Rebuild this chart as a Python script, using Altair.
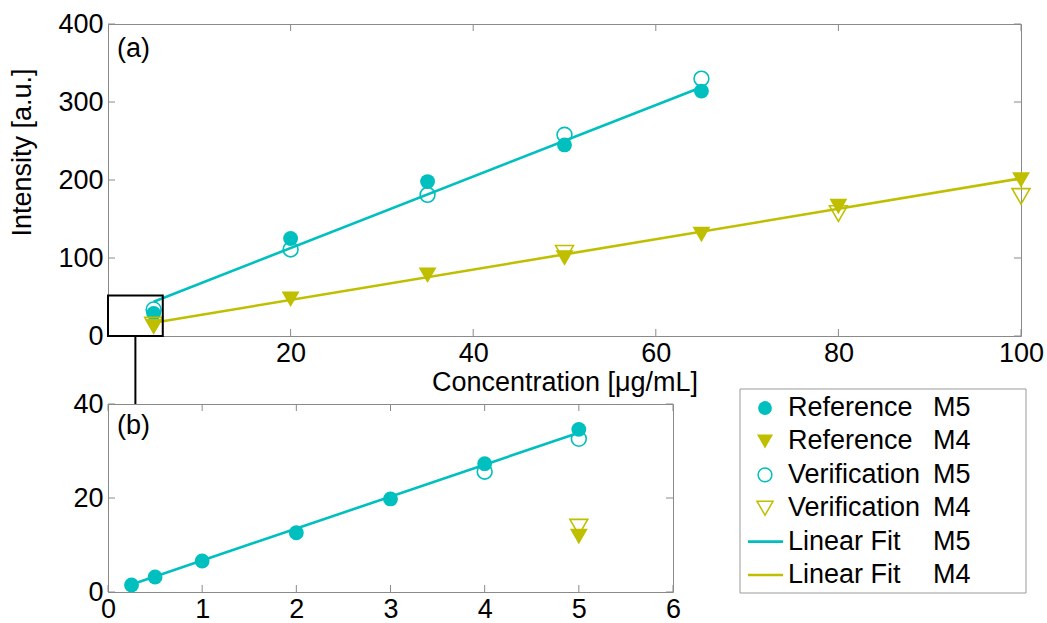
import altair as alt
import pandas as pd

FONT = "Liberation Sans"
FS = 27
CYAN = "#00BFBF"
OLIVE = "#BFBF00"
FRAME = "#8a8a8a"

# ---------------- data: panel (a) ----------------
a_m5_ref_x = [5, 20, 35, 50, 65]
a_m5_ref_y = [29, 125, 198, 245, 314]
a_m5_ver_x = [5, 20, 35, 50, 65]
a_m5_ver_y = [34, 111, 181, 258, 330]
a_m4_ref_x = [5, 20, 35, 50, 65, 80, 100]
a_m4_ref_y = [12, 47, 78, 100, 130, 166, 200]
a_m4_ver_x = [5, 50, 80, 100]
a_m4_ver_y = [14, 106, 157, 179]
a_fit_m5_x = [5, 65]
a_fit_m5_y = [44, 319]
a_fit_m4_x = [5, 100]
a_fit_m4_y = [17, 202]
a_zoom_box_x = [0, 6]
a_zoom_box_y = [0, 52]
a_xticks = [20, 40, 60, 80, 100]
a_yticks = [0, 100, 200, 300, 400]

# ---------------- data: panel (b) ----------------
b_m5_ref_x = [0.25, 0.5, 1, 2, 3, 4, 5]
b_m5_ref_y = [1.5, 3.2, 6.6, 12.6, 19.8, 27.3, 34.6]
b_m5_ver_x = [4, 5]
b_m5_ver_y = [25.6, 32.6]
b_m4_ref_x = [5]
b_m4_ref_y = [11.8]
b_m4_ver_x = [5]
b_m4_ver_y = [13.8]
b_fit_m5_x = [0.25, 5]
b_fit_m5_y = [1.6, 33.9]
b_xticks = [0, 1, 2, 3, 4, 5, 6]
b_yticks = [0, 20, 40]

# ---------------- legend ----------------
leg_names = ["Reference", "Reference", "Verification", "Verification", "Linear Fit", "Linear Fit"]
leg_models = ["M5", "M4", "M5", "M4", "M5", "M4"]
leg_kinds = ["filled-circle", "filled-tri", "open-circle", "open-tri", "line", "line"]
leg_colors = [CYAN, OLIVE, CYAN, OLIVE, CYAN, OLIVE]

W_A, H_A = 913, 312
W_B, H_B = 565, 188
W_L, H_L = 286, 188
TICK = 7


def df(xs, ys):
    return pd.DataFrame({"x": xs, "y": ys})


def panel(x_dom, y_dom, xticks, yticks, W, H, series, fits, x_title=None, y_title=None,
          extras=None, label="", xpad=4):
    xs = alt.Scale(domain=x_dom, nice=False, zero=False)
    ys = alt.Scale(domain=y_dom, nice=False, zero=False)
    ax_x = alt.Axis(values=xticks, ticks=False, domain=False, grid=False, labelFontSize=FS,
                    labelFont=FONT, labelColor="black", labelPadding=xpad, labelFlush=False,
                    title=x_title, titleFont=FONT, titleFontSize=FS, titleFontWeight="normal",
                    titleColor="black", titlePadding=3)
    ykw = dict(values=yticks, ticks=False, domain=False, grid=False, labelFontSize=FS,
               labelFont=FONT, labelColor="black", labelPadding=5, labelFlush=False,
               title=y_title, titleFont=FONT, titleFontSize=FS, titleFontWeight="normal",
               titleColor="black")
    if y_title:
        ykw.update(titleX=-86, titleY=128, titleBaseline="middle", titleAlign="center", titleAngle=-90)
    ax_y = alt.Axis(**ykw)
    X = lambda: alt.X("x:Q", scale=xs, axis=ax_x)
    Y = lambda: alt.Y("y:Q", scale=ys, axis=ax_y)

    layers = []
    # inward ticks on all four sides
    tx = pd.DataFrame({"x": xticks})
    ty = pd.DataFrame({"y": yticks})
    layers.append(alt.Chart(tx).mark_rule(color=FRAME, strokeWidth=1).encode(
        x=X(), y=alt.value(H), y2=alt.value(H - TICK)))
    layers.append(alt.Chart(tx).mark_rule(color=FRAME, strokeWidth=1).encode(
        x=X(), y=alt.value(0), y2=alt.value(TICK)))
    layers.append(alt.Chart(ty).mark_rule(color=FRAME, strokeWidth=1).encode(
        y=Y(), x=alt.value(0), x2=alt.value(TICK)))
    layers.append(alt.Chart(ty).mark_rule(color=FRAME, strokeWidth=1).encode(
        y=Y(), x=alt.value(W), x2=alt.value(W - TICK)))

    for (xv, yv, shape, filled, color) in series:
        m = alt.Chart(df(xv, yv)).mark_point(
            shape=shape, filled=filled, size=(220 if shape == "circle" else 320),
            color=color, opacity=1, strokeWidth=1.6)
        layers.append(m.encode(x=X(), y=Y()))
    for (xv, yv, color) in fits:
        layers.append(alt.Chart(df(xv, yv)).mark_line(color=color, strokeWidth=2.6).encode(
            x=X(), y=Y()))
    if extras:
        layers.extend(extras(X, Y))
    layers.append(alt.Chart(pd.DataFrame({"t": [label]})).mark_text(
        align="left", baseline="middle", font=FONT, fontSize=FS, color="black").encode(
        text="t:N", x=alt.value(9), y=alt.value(25 if label == "(a)" else 22)))
    return alt.layer(*layers).properties(width=W, height=H)


def a_extras(X, Y):
    box = pd.DataFrame({"x": [a_zoom_box_x[0]], "x2": [a_zoom_box_x[1]],
                        "y": [a_zoom_box_y[0]], "y2": [a_zoom_box_y[1]]})
    rect = alt.Chart(box).mark_rect(fillOpacity=0, stroke="black", strokeWidth=2).encode(
        x=X(), x2="x2:Q", y=Y(), y2="y2:Q")
    mid = pd.DataFrame({"x": [(a_zoom_box_x[0] + a_zoom_box_x[1]) / 2]})
    conn = alt.Chart(mid).mark_rule(color="black", strokeWidth=2).encode(
        x=X(), y=alt.value(H_A), y2=alt.value(H_A + 68))
    return [rect, conn]


chart_a = panel([0, 100], [0, 400], a_xticks, a_yticks, W_A, H_A,
                [(a_m5_ref_x, a_m5_ref_y, "circle", True, CYAN),
                 (a_m4_ref_x, a_m4_ref_y, "triangle-down", True, OLIVE),
                 (a_m5_ver_x, a_m5_ver_y, "circle", False, CYAN),
                 (a_m4_ver_x, a_m4_ver_y, "triangle-down", False, OLIVE)],
                [(a_fit_m5_x, a_fit_m5_y, CYAN), (a_fit_m4_x, a_fit_m4_y, OLIVE)],
                x_title="Concentration [\u03bcg/mL]", y_title="Intensity [a.u.]",
                extras=a_extras, label="(a)")

chart_b = panel([0, 6], [0, 40], b_xticks, b_yticks, W_B, H_B,
                [(b_m5_ref_x, b_m5_ref_y, "circle", True, CYAN),
                 (b_m4_ref_x, b_m4_ref_y, "triangle-down", True, OLIVE),
                 (b_m5_ver_x, b_m5_ver_y, "circle", False, CYAN),
                 (b_m4_ver_x, b_m4_ver_y, "triangle-down", False, OLIVE)],
                [(b_fit_m5_x, b_fit_m5_y, CYAN)],
                label="(b)", xpad=4)

# ---------------- legend panel ----------------
leg = pd.DataFrame({"i": list(range(len(leg_names))), "name": leg_names, "model": leg_models,
                    "kind": leg_kinds, "color": leg_colors})
ly = alt.Y("i:Q", scale=alt.Scale(domain=[5.509, -0.12], nice=False, zero=False), axis=None)
frame = alt.Chart(pd.DataFrame({"k": [0]})).mark_rect(
    fill="white", stroke="#9a9a9a", strokeWidth=1).encode(
    x=alt.value(0), x2=alt.value(W_L), y=alt.value(-15), y2=alt.value(189))
leg_layers = [frame]
for kind, shape, filled in [("filled-circle", "circle", True), ("open-circle", "circle", False),
                            ("filled-tri", "triangle-down", True), ("open-tri", "triangle-down", False)]:
    leg_layers.append(alt.Chart(leg).transform_filter(alt.datum.kind == kind).mark_point(
        shape=shape, filled=filled, size=(190 if shape == "circle" else 260), opacity=1,
        strokeWidth=1.5).encode(
        x=alt.value(25), y=ly, color=alt.Color("color:N", scale=None)))
leg_layers.append(alt.Chart(leg).transform_filter(alt.datum.kind == "line").mark_rule(
    strokeWidth=2.6).encode(x=alt.value(8), x2=alt.value(43), y=ly,
                            color=alt.Color("color:N", scale=None)))
leg_layers.append(alt.Chart(leg).mark_text(align="left", baseline="middle", font=FONT,
                                           fontSize=FS, color="black").encode(
    x=alt.value(48), y=ly, text="name:N"))
leg_layers.append(alt.Chart(leg).mark_text(align="left", baseline="middle", font=FONT,
                                           fontSize=FS, color="black").encode(
    x=alt.value(193), y=ly, text="model:N"))
chart_leg = alt.layer(*leg_layers).properties(
    width=W_L, height=H_L, view=alt.ViewBackground(stroke=None))

chart = alt.vconcat(
    chart_a,
    alt.hconcat(chart_b, chart_leg, spacing=67, bounds="flush"),
    spacing=68,
    bounds="flush",
).properties(
    padding={"left": 7, "top": 9, "right": 0, "bottom": 0},
    background="white",
).configure_view(stroke=FRAME, strokeWidth=1)

chart.save("out.html", embed_options={"renderer": "svg", "actions": False})
